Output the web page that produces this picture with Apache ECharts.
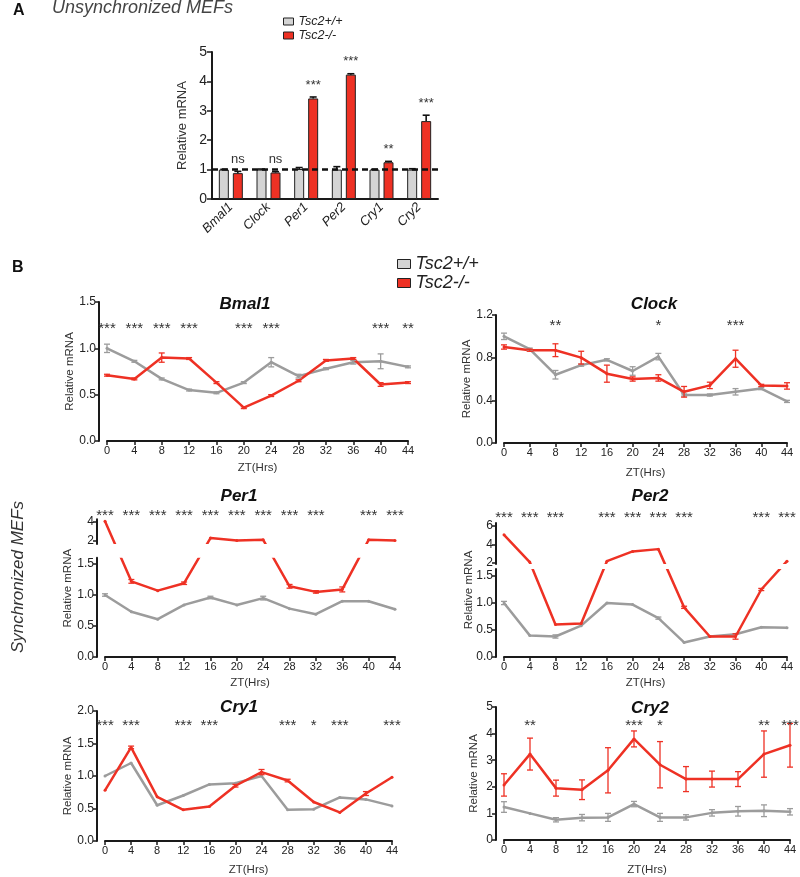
<!DOCTYPE html>
<html><head><meta charset="utf-8">
<script src="https://cdn.jsdelivr.net/npm/echarts@6/dist/echarts.min.js"></script>
<style>html,body{margin:0;padding:0;background:#fff}#c{width:800px;height:877px}</style>
</head><body><div id="c"></div>
<script>
// ---------------- DATA ----------------
const genes = ['Bmal1','Clock','Per1','Per2','Cry1','Cry2'];
const unsyncWT    = [1.00,1.00,1.02,1.00,1.00,1.00];
const unsyncWTErr = [0.01,0.02,0.05,0.10,0.01,0.03];
const unsyncKO    = [0.88,0.90,3.42,4.23,1.25,2.65];
const unsyncKOErr = [0.06,0.03,0.05,0.03,0.03,0.20];
const unsyncSig   = ['ns','ns','***','***','**','***'];

const hours = [0,4,8,12,16,20,24,28,32,36,40,44];

const bmal1WT    = [1.00,0.86,0.67,0.55,0.52,0.63,0.85,0.70,0.78,0.85,0.86,0.80];
const bmal1WTErr = [0.045,0.01,0.01,0.01,0.01,0.01,0.05,0.02,0.01,0.02,0.08,0.01];
const bmal1KO    = [0.71,0.67,0.90,0.89,0.63,0.36,0.49,0.65,0.87,0.89,0.61,0.63];
const bmal1KOErr = [0.01,0.01,0.05,0.01,0.01,0.01,0.01,0.01,0.01,0.01,0.02,0.01];
const bmal1Sig   = ['***','***','***','***','','***','***','','','','***','**'];

const clockWT    = [1.00,0.88,0.64,0.73,0.78,0.675,0.81,0.45,0.45,0.48,0.51,0.39];
const clockWTErr = [0.03,0.01,0.04,0.01,0.01,0.04,0.03,0.01,0.01,0.03,0.01,0.01];
const clockKO    = [0.90,0.87,0.87,0.80,0.65,0.60,0.61,0.48,0.54,0.79,0.54,0.535];
const clockKOErr = [0.02,0.01,0.06,0.06,0.08,0.02,0.03,0.05,0.03,0.08,0.01,0.03];
const clockSig   = ['','','**','','','','*','','','***','',''];

const per1WT    = [1.00,0.73,0.61,0.84,0.96,0.84,0.95,0.78,0.69,0.90,0.90,0.77];
const per1WTErr = [0.02,0.01,0.01,0.01,0.02,0.01,0.03,0.01,0.01,0.01,0.01,0.01];
const per1KO    = [4.00,1.22,1.07,1.19,2.30,2.05,2.12,1.14,1.05,1.09,2.12,2.05];
const per1KOErr = [0.02,0.03,0.01,0.02,0.02,0.01,0.02,0.03,0.02,0.04,0.02,0.01];
const per1Sig   = ['***','***','***','***','***','***','***','***','***','','***','***'];

const per2WT    = [1.00,0.40,0.38,0.58,1.00,0.97,0.72,0.27,0.38,0.42,0.55,0.54];
const per2WTErr = [0.03,0.01,0.03,0.01,0.01,0.01,0.02,0.01,0.01,0.01,0.01,0.01];
const per2KO    = [5.05,2.10,0.60,0.62,2.20,3.25,3.50,0.92,0.38,0.38,1.25,2.20];
const per2KOErr = [0.02,0.02,0.01,0.01,0.02,0.02,0.02,0.02,0.01,0.05,0.02,0.02];
const per2Sig   = ['***','***','***','','***','***','***','***','','','***','***'];

const cry1WT    = [1.00,1.20,0.55,0.70,0.87,0.89,1.00,0.48,0.49,0.67,0.64,0.54];
const cry1WTErr = [0.01,0.01,0.01,0.01,0.01,0.01,0.01,0.01,0.01,0.01,0.01,0.01];
const cry1KO    = [0.78,1.44,0.68,0.48,0.53,0.85,1.06,0.93,0.60,0.44,0.73,0.98];
const cry1KOErr = [0.01,0.02,0.01,0.01,0.01,0.02,0.04,0.02,0.01,0.01,0.03,0.01];
const cry1Sig   = ['***','***','','***','***','','','***','*','***','','***'];

const cry2WT    = [1.24,1.00,0.76,0.84,0.85,1.35,0.85,0.85,1.02,1.08,1.10,1.06];
const cry2WTErr = [0.20,0.00,0.08,0.12,0.15,0.10,0.15,0.10,0.12,0.18,0.22,0.12];
const cry2KO    = [2.07,3.23,1.95,1.89,2.62,3.80,2.83,2.29,2.29,2.29,3.23,3.56];
const cry2KOErr = [0.42,0.60,0.30,0.37,0.85,0.30,0.87,0.47,0.30,0.28,0.87,0.82];
const cry2Sig   = ['','**','','','','***','*','','','','**','***'];

// ---------------- STYLE / LAYOUT ----------------
const FONT = '"Liberation Sans", Arial, Helvetica, sans-serif';
const RED = '#ee3124', GREYLINE = '#9c9c9c', GREYBAR = '#d4d4d4', INK = '#1a1a1a';

const LAY = {
  bmal1: {left:107, top:302, width:301, bottom:441, min:0, max:1.5, interval:0.5, dec:1, starDy:27, xNameGap:21, yNameGap:20, title:[245,304]},
  clock: {left:504, top:315, width:283, bottom:443, min:0, max:1.2, interval:0.4, dec:1, starDy:11, xNameGap:24, yNameGap:20, title:[654,304]},
  cry1:  {left:105, top:711, width:287, bottom:841, min:0, max:2, interval:0.5, dec:1, starDy:15, xNameGap:23, yNameGap:22, title:[239,707]},
  cry2:  {left:504, top:707, width:286, bottom:840, min:0, max:5, interval:1, dec:0, starDy:19, xNameGap:24, yNameGap:16, title:[650,708]},
  per1:  {left:105, top:519.3, width:290, bottom:657, lowPx:62, upRefPx:541, upPx:9.85, lowTop:557.7, upBottom:544, thresh:1.7, upTicks:[2,4], starDy:-3, xNameGap:20, yNameGap:23, title:[239,496]},
  per2:  {left:504, top:523, width:283, bottom:657, lowPx:54, upRefPx:563, upPx:9.25, lowTop:569, upBottom:564, thresh:1.75, upTicks:[2,4,6], starDy:-5, xNameGap:20, yNameGap:21, title:[650,496]}
};

const option = {animation:false, backgroundColor:'#ffffff', textStyle:{fontFamily:FONT},
  grid:[], xAxis:[], yAxis:[], series:[], legend:[], graphic:[]};

function grid(left, top, width, height){
  option.grid.push({left, top, width, height, containLabel:false, outerBoundsMode:'none'});
  return option.grid.length-1;
}
function xAx(o){ option.xAxis.push(o); return option.xAxis.length-1; }
function yAx(o){ option.yAxis.push(o); return option.yAxis.length-1; }
const axLine = {show:true, onZero:false, lineStyle:{color:INK, width:2}};
const tickStyle = {color:INK, width:1.5};

function xAxisB(gi, show, nameGap){
  return xAx({type:'value', gridIndex:gi, min:0, max:44, interval:4, show, position:'bottom',
    axisLine:axLine, axisTick:{show:true, length:4, lineStyle:tickStyle},
    axisLabel:{color:'#222', fontSize:11, margin:4, fontFamily:FONT}, splitLine:{show:false},
    name: show ? 'ZT(Hrs)' : '', nameLocation:'middle', nameGap,
    nameTextStyle:{fontSize:11.5, color:'#333', fontFamily:FONT}});
}
function yAxisB(gi, o, labelExtra, tickExtra){
  return yAx(Object.assign({type:'value', gridIndex:gi, offset:8, position:'left',
    axisLine:axLine,
    axisTick:Object.assign({show:true, length:4, lineStyle:tickStyle}, tickExtra||{}),
    axisLabel:Object.assign({color:'#222', fontSize:12, margin:3, fontFamily:FONT}, labelExtra||{}),
    splitLine:{show:false}, nameLocation:'middle',
    nameTextStyle:{fontSize:11.5, color:'#333', fontFamily:FONT}}, o));
}

function errSeries(xi, yi, xs, vals, errs, color, tf, z){
  return {type:'custom', xAxisIndex:xi, yAxisIndex:yi, z, silent:true, clip:false,
    data: xs.map((x,i)=>[x, tf(vals[i]-errs[i]), tf(vals[i]+errs[i])]),
    encode:{x:0, y:[1,2]},
    renderItem(params, api){
      const x = api.value(0);
      const lo = api.coord([x, api.value(1)]), hi = api.coord([x, api.value(2)]);
      if (Math.abs(hi[1]-lo[1]) < 1.5) return null;
      const w = 3, st = {stroke:color, lineWidth:1.3};
      return {type:'group', children:[
        {type:'line', shape:{x1:lo[0],y1:lo[1],x2:hi[0],y2:hi[1]}, style:st},
        {type:'line', shape:{x1:lo[0]-w,y1:lo[1],x2:lo[0]+w,y2:lo[1]}, style:st},
        {type:'line', shape:{x1:hi[0]-w,y1:hi[1],x2:hi[0]+w,y2:hi[1]}, style:st}]};
    }};
}
function starSeries(xi, yi, xs, sig, dy){
  return {type:'custom', xAxisIndex:xi, yAxisIndex:yi, z:6, silent:true, clip:false,
    data: xs.map(x=>[x, 0]), encode:{x:0, y:1},
    renderItem(params, api){
      const s = sig[params.dataIndex]; if (!s) return null;
      const p = api.coord([api.value(0), 0]);
      return {type:'text', x:p[0], y:params.coordSys.y + dy,
        style:{text:s, align:'center', verticalAlign:'middle', textAlign:'center', textVerticalAlign:'middle',
          fontSize:15, fontFamily:FONT, fill:'#333'}};
    }};
}
function addSeries(xi, yi, d, P, tf, mask){
  const S = option.series;
  S.push({type:'line', name:'Tsc2+/+', xAxisIndex:xi, yAxisIndex:yi, z:3, silent:true, clip:false,
    data: hours.map((h,i)=>[h, tf(d.wt[i])]), symbol:'circle', symbolSize:3,
    lineStyle:{color:GREYLINE, width:2.5}, itemStyle:{color:GREYLINE}, emphasis:{disabled:true}});
  const red = {type:'line', name:'Tsc2-/-', xAxisIndex:xi, yAxisIndex:yi, z:4, silent:true, clip:false,
    data: hours.map((h,i)=>[h, tf(d.ko[i])]), symbol:'circle', symbolSize:3,
    lineStyle:{color:RED, width:2.5}, itemStyle:{color:RED}, emphasis:{disabled:true}};
  if (mask) red.markArea = {silent:true, z:10, itemStyle:{color:'#ffffff', opacity:1, borderWidth:0},
    label:{show:false}, data:[[{yAxis:mask[0]},{yAxis:mask[1]}]]};
  S.push(red);
  S.push(errSeries(xi, yi, hours, d.wt, d.wtErr, GREYLINE, tf, 5));
  S.push(errSeries(xi, yi, hours, d.ko, d.koErr, RED, tf, 5));
  S.push(starSeries(xi, yi, hours, d.sig, P.starDy));
  option.graphic.push({type:'text', x:P.title[0], y:P.title[1], silent:true,
    style:{text:d.title, align:'center', verticalAlign:'middle', fontSize:17, fontWeight:'bold', fontStyle:'italic', fontFamily:FONT, fill:'#111'}});
}
function normalPanel(P, d){
  const gi = grid(P.left, P.top, P.width, P.bottom-P.top);
  const xi = xAxisB(gi, true, P.xNameGap);
  const yi = yAxisB(gi, {min:P.min, max:P.max, interval:P.interval, name:'Relative mRNA', nameGap:P.yNameGap},
    {formatter: v => v.toFixed(P.dec)});
  addSeries(xi, yi, d, P, v=>v, null);
}
function brokenPanel(P, d){
  const tf = r => r <= P.thresh ? r : (P.bottom - (P.upRefPx - (r - 2) * P.upPx)) / P.lowPx;
  const gO = grid(P.left, P.top, P.width, P.bottom-P.top);
  const xO = xAxisB(gO, true, P.xNameGap);
  const yO = yAx({type:'value', gridIndex:gO, offset:8, position:'left', min:0, max:(P.bottom-P.top)/P.lowPx,
    axisLine:{show:false}, axisTick:{show:false}, axisLabel:{show:false}, splitLine:{show:false},
    name:'Relative mRNA', nameLocation:'middle', nameGap:P.yNameGap,
    nameTextStyle:{fontSize:11.5, color:'#333', fontFamily:FONT}});
  const lowTicks = [0,0.5,1,1.5];
  const gL = grid(P.left, P.lowTop, P.width, P.bottom-P.lowTop);
  xAxisB(gL, false, 0);
  yAxisB(gL, {min:0, max:(P.bottom-P.lowTop)/P.lowPx},
    {customValues:lowTicks, formatter: v => v.toFixed(1)}, {customValues:lowTicks});
  const gU = grid(P.left, P.top, P.width, P.upBottom-P.top);
  xAxisB(gU, false, 0);
  yAxisB(gU, {min: 2 - (P.upBottom-P.upRefPx)/P.upPx, max: 2 + (P.upRefPx-P.top)/P.upPx},
    {customValues:P.upTicks, formatter: v => String(Math.round(v))}, {customValues:P.upTicks});
  const mask = [(P.bottom-P.lowTop)/P.lowPx, (P.bottom-P.upBottom)/P.lowPx];
  addSeries(xO, yO, d, P, tf, mask);
}

// ---------------- PANEL A ----------------
const gA = grid(212, 52, 226, 147);
const xA = xAx({type:'category', gridIndex:gA, data:genes,
  axisLine:{show:true, lineStyle:{color:INK, width:2}}, axisTick:{show:false},
  axisLabel:{rotate:45, interval:0, fontStyle:'italic', fontSize:13, color:'#222', margin:6, fontFamily:FONT},
  splitLine:{show:false}});
const yA = yAx({type:'value', gridIndex:gA, min:0, max:5, interval:1,
  axisLine:{show:true, lineStyle:{color:INK, width:2}}, axisTick:{show:true, length:5, lineStyle:tickStyle},
  axisLabel:{fontSize:14, color:'#222', margin:5, fontFamily:FONT}, splitLine:{show:false},
  name:'Relative mRNA', nameLocation:'middle', nameGap:23, nameTextStyle:{fontSize:13, color:'#333', fontFamily:FONT}});
option.series.push({type:'bar', name:'Tsc2+/+', xAxisIndex:xA, yAxisIndex:yA, data:unsyncWT,
  barWidth:10, barGap:'40%', itemStyle:{color:GREYBAR, borderColor:'#222', borderWidth:1}, silent:true, z:2});
option.series.push({type:'bar', name:'Tsc2-/-', xAxisIndex:xA, yAxisIndex:yA, data:unsyncKO,
  barWidth:10, barGap:'40%', itemStyle:{color:RED, borderColor:'#222', borderWidth:1}, silent:true, z:2,
  markLine:{silent:true, symbol:'none', label:{show:false}, z:8,
    lineStyle:{type:[6,4], color:'#111', width:2.5}, data:[{yAxis:1}]}});
function barErr(vals, errs, dx){
  return {type:'custom', xAxisIndex:xA, yAxisIndex:yA, z:4, silent:true, clip:false,
    data: vals.map((v,i)=>[i, v, v+errs[i]]), encode:{x:0, y:[1,2]},
    renderItem(params, api){
      const i = api.value(0);
      const a = api.coord([i, api.value(1)]), b = api.coord([i, api.value(2)]);
      const x = a[0] + dx, st = {stroke:'#111', lineWidth:1.6};
      return {type:'group', children:[
        {type:'line', shape:{x1:x, y1:a[1], x2:x, y2:b[1]}, style:st},
        {type:'line', shape:{x1:x-3.5, y1:b[1], x2:x+3.5, y2:b[1]}, style:st}]};
    }};
}
option.series.push(barErr(unsyncWT, unsyncWTErr, -7));
option.series.push(barErr(unsyncKO, unsyncKOErr, 7));
option.series.push({type:'custom', xAxisIndex:xA, yAxisIndex:yA, z:6, silent:true, clip:false,
  data: unsyncKO.map((v,i)=>[i, v+unsyncKOErr[i]]), encode:{x:0, y:1},
  renderItem(params, api){
    const p = api.coord([api.value(0), api.value(1)]);
    const s = unsyncSig[params.dataIndex];
    return {type:'text', x:p[0]+7, y:p[1]-12,
      style:{text:s, align:'center', verticalAlign:'middle', textAlign:'center', textVerticalAlign:'middle',
        fontSize:13, fontFamily:FONT, fill:'#333'}};
  }});

// ---------------- PANEL B ----------------
normalPanel(LAY.bmal1, {title:'Bmal1', wt:bmal1WT, wtErr:bmal1WTErr, ko:bmal1KO, koErr:bmal1KOErr, sig:bmal1Sig});
normalPanel(LAY.clock, {title:'Clock', wt:clockWT, wtErr:clockWTErr, ko:clockKO, koErr:clockKOErr, sig:clockSig});
brokenPanel(LAY.per1, {title:'Per1', wt:per1WT, wtErr:per1WTErr, ko:per1KO, koErr:per1KOErr, sig:per1Sig});
brokenPanel(LAY.per2, {title:'Per2', wt:per2WT, wtErr:per2WTErr, ko:per2KO, koErr:per2KOErr, sig:per2Sig});
normalPanel(LAY.cry1, {title:'Cry1', wt:cry1WT, wtErr:cry1WTErr, ko:cry1KO, koErr:cry1KOErr, sig:cry1Sig});
normalPanel(LAY.cry2, {title:'Cry2', wt:cry2WT, wtErr:cry2WTErr, ko:cry2KO, koErr:cry2KOErr, sig:cry2Sig});

// ---------------- LEGENDS ----------------
option.legend.push({orient:'vertical', left:283, top:15, padding:0, itemWidth:10, itemHeight:7, itemGap:1,
  icon:'rect', selectedMode:false, data:['Tsc2+/+','Tsc2-/-'],
  itemStyle:{borderColor:'#222', borderWidth:1},
  textStyle:{fontSize:12.5, fontStyle:'italic', color:'#222', lineHeight:12, fontFamily:FONT}});
option.legend.push({orient:'vertical', left:397, top:255, padding:0, itemWidth:13, itemHeight:9, itemGap:1,
  icon:'rect', selectedMode:false, data:['Tsc2+/+','Tsc2-/-'],
  itemStyle:{borderColor:'#222', borderWidth:1},
  textStyle:{fontSize:18, fontStyle:'italic', color:'#222', lineHeight:16, fontFamily:FONT}});

// ---------------- TEXT ----------------
option.graphic.push(
  {type:'text', x:13, y:11, silent:true, style:{text:'A', align:'left', verticalAlign:'middle', fontSize:16, fontWeight:'bold', fontFamily:FONT, fill:'#111'}},
  {type:'text', x:52, y:8, silent:true, style:{text:'Unsynchronized MEFs', align:'left', verticalAlign:'middle', fontSize:18, fontStyle:'italic', fontFamily:FONT, fill:'#444'}},
  {type:'text', x:12, y:268, silent:true, style:{text:'B', align:'left', verticalAlign:'middle', fontSize:16, fontWeight:'bold', fontFamily:FONT, fill:'#111'}},
  {type:'text', x:18, y:577, rotation:Math.PI/2, silent:true, style:{text:'Synchronized MEFs', align:'center', verticalAlign:'middle', fontSize:17, fontStyle:'italic', fontFamily:FONT, fill:'#333'}}
);

const chart = echarts.init(document.getElementById('c'), null, {renderer:'canvas', width:800, height:877});
chart.setOption(option);
</script></body></html>
